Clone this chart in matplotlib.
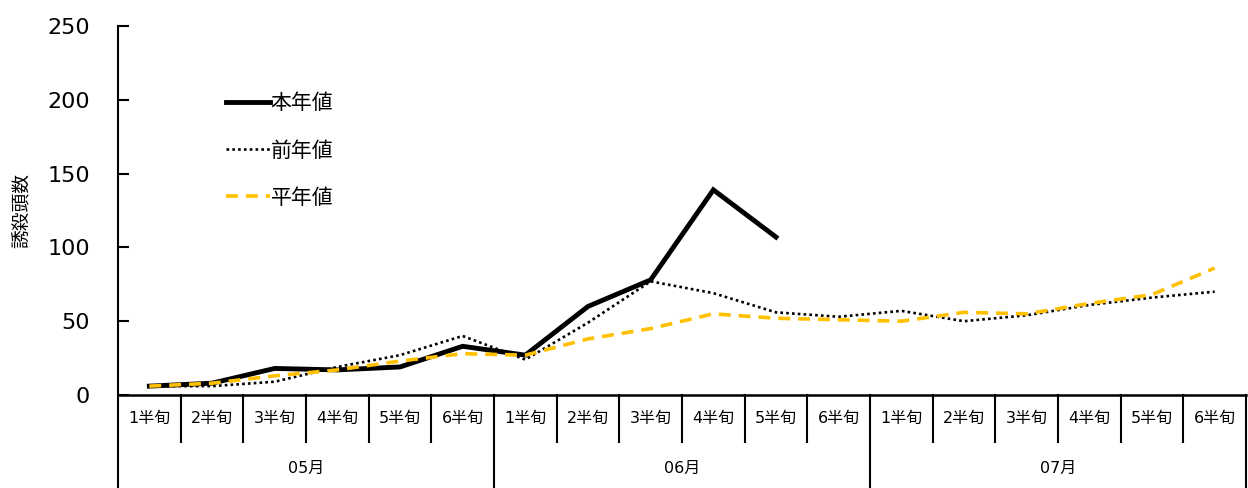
import numpy as np
import matplotlib
matplotlib.use('Agg')
import matplotlib.pyplot as plt

plt.rcParams['font.family'] = ['DejaVu Sans', 'Noto Sans CJK JP']

# Chart data
months = ['05月', '06月', '07月']
periods = ['1半旬', '2半旬', '3半旬', '4半旬', '5半旬', '6半旬']
this_year = [6, 8, 18, 17, 19, 33, 27, 60, 78, 139, 107]
last_year = [6, 6, 9, 19, 27, 40, 24, 49, 77, 69, 56, 53, 57, 50, 54, 61, 66, 70]
normal_year = [6, 8, 13, 17, 23, 28, 27, 38, 45, 55, 52, 51, 50, 56, 55, 62, 68, 86]
y_ticks = [0, 50, 100, 150, 200, 250]

n_cat = len(months) * len(periods)

fig = plt.figure(figsize=(12.48, 4.88), dpi=100)
ax = fig.add_axes([118 / 1248, 1 - 395 / 488, 1128 / 1248, 369 / 488])

ax.plot(np.arange(len(this_year)), this_year, color='black', lw=3.5,
        solid_joinstyle='miter', label='本年値')
ax.plot(np.arange(len(last_year)), last_year, color='black', lw=1.9,
        linestyle=(0, (1, 1.2)), label='前年値')
ax.plot(np.arange(len(normal_year)), normal_year, color='#FFC000', lw=2.6,
        linestyle=(0, (3.3, 2.2)), label='平年値')

ax.set_xlim(-0.5, n_cat - 0.5)
ax.set_ylim(0, 250)
ax.set_yticks(y_ticks)
ax.set_xticks([])
ax.tick_params(axis='y', direction='in', length=8, width=1.5, pad=20, labelsize=16)
for side in ['top', 'right']:
    ax.spines[side].set_visible(False)
ax.spines['left'].set_linewidth(1.5)
ax.spines['bottom'].set_linewidth(1.8)
ax.set_ylabel('誘殺頭数', fontsize=13.5)
ax.yaxis.set_label_coords(-86 / 1128, 0.5)

# category table under the x axis
trans = ax.get_xaxis_transform()
row1 = -47 / 369
row2 = -93 / 369
for i in range(n_cat + 1):
    x = i - 0.5
    bottom = row2 if i % len(periods) == 0 else row1
    ax.plot([x, x], [0, bottom], transform=trans, color='black', lw=1.5,
            clip_on=False)
for i in range(n_cat):
    ax.text(i, row1 / 2, periods[i % len(periods)], transform=trans,
            ha='center', va='center', fontsize=11.5)
for m, name in enumerate(months):
    xc = m * len(periods) + (len(periods) - 1) / 2
    ax.text(xc, (row1 + row2) / 2 - 0.008, name, transform=trans,
            ha='center', va='center', fontsize=11.5)

leg = ax.legend(loc='upper left', bbox_to_anchor=(0.079, 0.868), frameon=False,
                fontsize=15, handlelength=2.1, handletextpad=0.05,
                labelspacing=1.3)

fig.savefig('out.png', dpi=100)
